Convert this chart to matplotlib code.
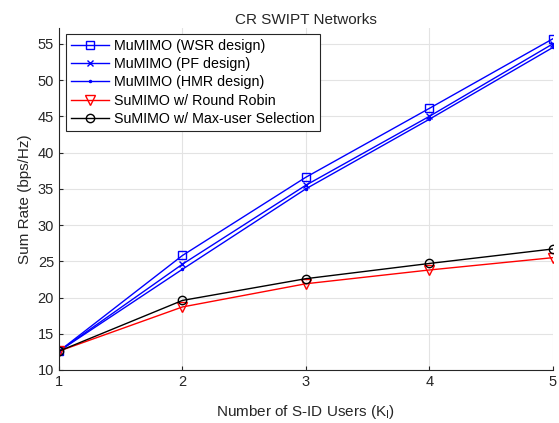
import matplotlib
matplotlib.use("Agg")
import matplotlib.pyplot as plt

plt.rcParams["font.family"] = ["Liberation Sans", "DejaVu Sans"]
plt.rcParams["mathtext.fontset"] = "custom"
plt.rcParams["mathtext.rm"] = "Liberation Sans"
plt.rcParams["mathtext.it"] = "Liberation Sans"

users = [1, 2, 3, 4, 5]
wsr = [12.6, 25.8, 36.6, 46.1, 55.7]
pf = [12.6, 24.6, 35.5, 45.0, 55.0]
hmr = [12.6, 23.9, 35.0, 44.6, 54.5]
round_robin = [12.6, 18.7, 21.9, 23.8, 25.5]
max_user = [12.6, 19.6, 22.6, 24.7, 26.7]

fig = plt.figure(figsize=(5.59, 4.23), dpi=100)
ax = fig.add_axes([0.1055, 0.1253, 0.8835, 0.8087])

ax.plot(users, wsr, color="blue", marker="s", markersize=5.5, mfc="none", lw=1, label="MuMIMO (WSR design)")
ax.plot(users, pf, color="blue", marker="x", markersize=4.5, lw=1, label="MuMIMO (PF design)")
ax.plot(users, hmr, color="blue", marker=".", markersize=3, lw=1, label="MuMIMO (HMR design)")
ax.plot(users, round_robin, color="red", marker="v", markersize=6.5, mfc="none", lw=1, label="SuMIMO w/ Round Robin")
ax.plot(users, max_user, color="black", marker="o", markersize=6, mfc="none", lw=1, label="SuMIMO w/ Max-user Selection")

ax.set_xlim(1, 5)
ax.set_ylim(10, 57.2)
ax.set_xticks(users)
ax.set_yticks(range(10, 56, 5))
ax.grid(True, color="#e3e3e3", lw=0.8)
ax.set_axisbelow(True)
ax.tick_params(direction="in", length=3, labelsize=10.5, colors="#262626")
ax.spines["top"].set_visible(False)
ax.spines["right"].set_visible(False)
ax.spines["left"].set_color("#262626")
ax.spines["bottom"].set_color("#262626")

ax.set_title("CR SWIPT Networks", fontsize=11, color="#262626", pad=3)
ax.set_xlabel(r"Number of S-ID Users (K$_\mathrm{I}$)", fontsize=11, color="#262626", labelpad=10)
ax.set_ylabel("Sum Rate (bps/Hz)", fontsize=11, color="#262626", labelpad=4)

leg = ax.legend(loc="upper left", bbox_to_anchor=(0.015, 0.983), fontsize=10.3, frameon=True,
                fancybox=False, edgecolor="#262626", framealpha=1, handlelength=2.6,
                borderpad=0.35, labelspacing=0.3, handletextpad=0.4, borderaxespad=0)
leg.get_frame().set_linewidth(0.8)

fig.savefig("out.png", dpi=100)
